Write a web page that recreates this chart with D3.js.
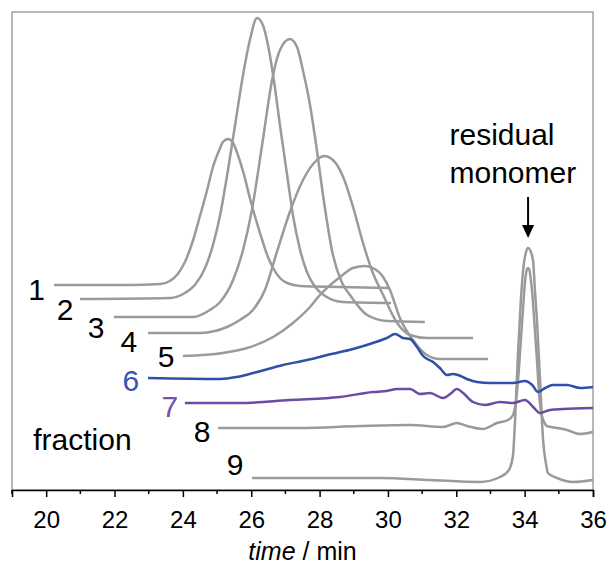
<!DOCTYPE html>
<head>
  <meta charset="utf-8">
  <script src="https://d3js.org/d3.v7.min.js"></script>
  <style>
    body { margin: 0; background: #fff; }
    svg { width: 609px; height: 571px; font-family: "Liberation Sans", Arial, sans-serif; }
  </style>
</head>

<body>
  <svg></svg>

  <script>
    // fractions 1-9, each a list of [time (min), signal (a.u., already offset)]
    const fraction1 = [[20.23,205],[22.45,205],[23.33,206],[23.62,209],[23.85,216],[24.06,228],[24.30,250],[24.50,274],[24.71,300],[24.88,323],[25.09,342],[25.17,348],[25.32,351],[25.47,347],[25.61,335],[25.79,315],[25.96,292],[26.14,270],[26.34,248],[26.49,233],[26.64,222],[26.84,212],[27.05,207],[27.43,204],[28.60,203],[30.06,202]];
    const fraction2 = [[20.99,191],[23.62,192],[24.06,197],[24.35,205],[24.65,222],[24.88,245],[25.09,275],[25.32,320],[25.55,370],[25.76,415],[25.96,450],[26.17,472],[26.34,465],[26.49,445],[26.64,415],[26.84,365],[27.05,315],[27.22,275],[27.43,240],[27.63,218],[27.87,203],[28.16,194],[28.69,188],[30.09,187]];
    const fraction3 = [[21.98,173],[24.30,173],[24.79,180],[25.09,188],[25.47,210],[25.76,240],[26.02,280],[26.34,350],[26.61,410],[26.84,440],[27.13,451],[27.34,443],[27.51,420],[27.72,385],[27.92,340],[28.10,295],[28.39,235],[28.66,207],[28.89,195],[29.39,175],[29.97,169],[31.08,168]];
    const fraction4 = [[22.98,157],[24.50,157],[24.94,159],[25.29,163],[25.67,170],[26.05,180],[26.40,200],[26.75,238],[27.13,278],[27.43,304],[27.81,326],[28.13,334],[28.39,330],[28.69,313],[28.98,283],[29.27,247],[29.56,217],[29.86,195],[30.27,167],[30.65,155],[31.14,152],[32.49,152]];
    const fraction5 = [[24.00,134],[25.17,137],[25.88,142],[26.64,153],[27.22,167],[27.72,183],[28.01,195],[28.60,213],[28.98,222],[29.33,224],[29.56,222],[29.86,213],[30.06,200],[30.35,172],[30.73,150],[31.14,135],[31.52,131],[32.93,131]];
    const fraction6 = [[22.98,112],[25.09,111],[25.58,113],[26.17,118],[26.93,125],[27.63,130],[28.22,135],[28.98,141],[29.56,147],[29.97,152],[30.21,156],[30.44,152],[30.65,151],[30.85,143],[31.03,134],[31.32,128],[31.52,122],[31.73,115],[31.90,116],[32.05,115],[32.31,111],[32.61,108],[32.99,107],[33.66,107],[34.01,109],[34.22,105],[34.39,98],[34.60,102],[34.83,105],[35.24,105],[35.62,102],[36.00,103]];
    const fraction7 = [[24.06,87],[25.67,87],[27.13,90],[28.60,93],[29.56,98],[29.97,99],[30.27,101],[30.65,101],[30.94,96],[31.23,97],[31.61,92],[31.82,96],[32.02,101],[32.20,97],[32.49,88],[32.84,85],[33.28,88],[33.66,87],[34.01,90],[34.25,83],[34.45,77],[34.74,80],[35.12,81],[36.00,82]];
    const fraction8 = [[25.03,62],[27.43,62],[29.18,64],[30.65,65],[31.61,63],[32.02,67],[32.31,64],[32.78,61],[33.19,67],[33.51,70],[33.66,75],[33.75,90],[33.83,120],[33.89,150],[33.95,180],[34.01,208],[34.07,221],[34.10,222],[34.13,221],[34.19,208],[34.25,185],[34.30,160],[34.36,130],[34.42,98],[34.48,78],[34.57,68],[34.65,64],[34.95,62],[35.24,60],[35.62,56],[36.00,58]];
    const fraction9 = [[26.02,12],[27.43,12],[29.77,12],[31.23,10],[32.69,8],[33.28,13],[33.43,16],[33.57,22],[33.66,35],[33.72,70],[33.81,140],[33.89,190],[33.95,218],[34.04,238],[34.10,242],[34.16,240],[34.25,228],[34.30,200],[34.36,170],[34.45,110],[34.54,50],[34.63,25],[34.68,17],[34.95,12],[35.42,8],[36.00,10]];

    const fractionNames = ['1','2','3','4','5','6','7','8','9'];
    const fractionColors = ['#9a9a9a','#9a9a9a','#9a9a9a','#9a9a9a','#9a9a9a','#2f4fa8','#6a4ba6','#9a9a9a','#9a9a9a'];
    const labelColors = ['#000','#000','#000','#000','#000','#3556b0','#7351a8','#000','#000'];
    // label anchor in data units [time, signal]
    const labelPos = [[19.72,190],[20.55,170],[21.46,152],[22.42,138],[23.51,123],[22.48,99],[23.62,73],[24.56,48],[25.53,15]];

    const majorTicks = [20,22,24,26,28,30,32,34,36];
    const minorTicks = [19,21,23,25,27,29,31,33,35];

    const width = 609;
    const height = 571;
    const margin = {left: 12, right: 16, top: 12, bottom: 81};

    const svg = d3.select('svg');

    const x = d3.scaleLinear().domain([19, 36]).range([margin.left, width - margin.right]);
    const y = d3.scaleLinear().domain([0, 478]).range([height - margin.bottom, margin.top]);

    /*****************************************************
    ** frame + axis
    ******************************************************/
    svg.append('rect')
      .attr('x', x(19)).attr('y', y(478))
      .attr('width', x(36) - x(19)).attr('height', y(0) - y(478))
      .attr('fill', 'none').attr('stroke', '#a0a0a0').attr('stroke-width', 1.5);

    const axis = svg.append('g')
      .attr('transform', `translate(0, ${y(0)})`)
      .call(d3.axisBottom(x).tickValues(majorTicks).tickSize(7).tickFormat(d3.format('d')));
    axis.select('.domain').attr('stroke', '#000').attr('stroke-width', 1.5);
    axis.selectAll('.tick line').attr('stroke-width', 1.5);
    axis.selectAll('.tick text')
      .attr('y', 38).attr('dy', 0)
      .attr('font-size', 24)
      .attr('font-family', '"Liberation Sans", Arial, sans-serif');

    axis.selectAll('.minor')
      .data(minorTicks).enter().append('line')
      .attr('class', 'minor')
      .attr('x1', d => x(d)).attr('x2', d => x(d))
      .attr('y1', 0).attr('y2', 4)
      .attr('stroke', '#000').attr('stroke-width', 1.5);

    const title = svg.append('text')
      .attr('x', x(27.5)).attr('y', 560)
      .attr('text-anchor', 'middle')
      .attr('font-size', 25);
    title.append('tspan').attr('font-style', 'italic').text('time');
    title.append('tspan').text(' / min');

    /*****************************************************
    ** traces
    ******************************************************/
    const fractions = [fraction1, fraction2, fraction3, fraction4, fraction5, fraction6, fraction7, fraction8, fraction9];
    const line = d3.line()
      .x(d => x(d[0]))
      .y(d => y(d[1]))
      .curve(d3.curveMonotoneX);

    const drawOrder = [7, 8, 0, 1, 2, 3, 4, 5, 6];
    svg.selectAll('path.trace')
      .data(drawOrder).enter().append('path')
      .attr('class', 'trace')
      .attr('d', i => line(fractions[i]))
      .attr('fill', 'none')
      .attr('stroke', i => fractionColors[i])
      .attr('stroke-width', 2.5)
      .attr('stroke-linejoin', 'round');

    svg.selectAll('text.num')
      .data(fractionNames).enter().append('text')
      .attr('class', 'num')
      .attr('x', (d, i) => x(labelPos[i][0]))
      .attr('y', (d, i) => y(labelPos[i][1]))
      .attr('text-anchor', 'middle')
      .attr('font-size', 30)
      .attr('fill', (d, i) => labelColors[i])
      .text(d => d);

    svg.append('text')
      .attr('x', x(19.62)).attr('y', y(40))
      .attr('font-size', 30)
      .text('fraction');

    /*****************************************************
    ** residual monomer annotation
    ******************************************************/
    svg.append('text').attr('x', x(31.8)).attr('y', y(345)).attr('font-size', 30).text('residual');
    svg.append('text').attr('x', x(31.8)).attr('y', y(307)).attr('font-size', 30).text('monomer');

    const ax = x(34.1);
    svg.append('line')
      .attr('x1', ax).attr('x2', ax)
      .attr('y1', y(293)).attr('y2', y(262))
      .attr('stroke', '#000').attr('stroke-width', 2);
    svg.append('path')
      .attr('d', `M${ax - 6},${y(265)} L${ax + 6},${y(265)} L${ax},${y(252)} Z`)
      .attr('fill', '#000');
  </script>
</body>
